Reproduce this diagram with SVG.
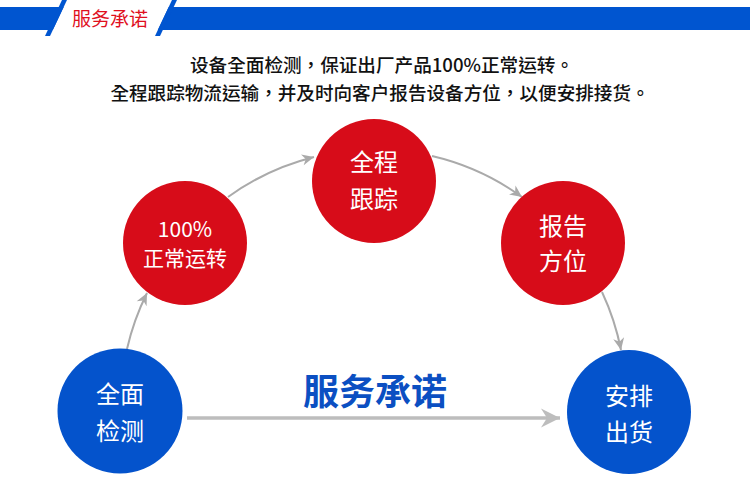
<svg xmlns="http://www.w3.org/2000/svg" width="750" height="490" viewBox="0 0 750 490">
<defs>
<style>
.hdr{fill:#0055d0}
.red{fill:#d70c19}
.blue{fill:#0453cc}
.ct{font-family:"Noto Sans CJK SC","Noto Sans",sans-serif;fill:#fff;text-anchor:middle}
.sub{font-family:"Noto Sans CJK TC",sans-serif;font-size:18.6px;font-weight:500;fill:#111;text-anchor:middle}
.arc{fill:none;stroke:#aaaaaa;stroke-width:2}
</style>
<marker id="ah" markerUnits="userSpaceOnUse" viewBox="-13 -6 14 12" markerWidth="14" markerHeight="12" refX="0" refY="0" orient="auto">
<path d="M0,0 L-12,-5.5 L-8.5,0 L-12,5.5 Z" fill="#aaaaaa"/>
</marker>
<marker id="ahb" markerUnits="userSpaceOnUse" viewBox="-19 -10 20 20" markerWidth="20" markerHeight="20" refX="0" refY="0" orient="auto">
<path d="M0,0 L-19,-9.5 L-13,0 L-19,9.5 Z" fill="#bdbdbd"/>
</marker>
</defs>
<rect width="750" height="490" fill="#fff"/>
<g id="header">
<polygon class="hdr" points="0,7 63.7,7 52.8,30 0,30"/>
<polygon class="hdr" points="62,0 67,0 50,36 45,36"/>
<polygon class="hdr" points="168.7,7 750,7 750,30 157.8,30"/>
<polygon class="hdr" points="172,0 177,0 160,36 155,36"/>
<text x="110" y="26" font-family="Noto Sans CJK SC,sans-serif" font-size="19" fill="#e0101e" text-anchor="middle">服务承诺</text>
</g>
<g id="subtitle">
<text class="sub" x="382" y="72">设备全面检测，保证出厂产品100%正常运转。</text>
<text class="sub" x="380" y="100">全程跟踪物流运输，并及时向客户报告设备方位，以便安排接货。</text>
</g>
<g id="connectors">
<path class="arc" d="M127,349 A251,251 0 0 1 147,293" marker-end="url(#ah)"/>
<path class="arc" d="M228,197 A251,251 0 0 1 314,157" marker-end="url(#ah)"/>
<path class="arc" d="M432,156 A251,251 0 0 1 522,197" marker-end="url(#ah)"/>
<path class="arc" d="M602,292 A251,251 0 0 1 621,350" marker-end="url(#ah)"/>
<line x1="187" y1="418" x2="560" y2="418" stroke="#bdbdbd" stroke-width="3.5" marker-end="url(#ahb)"/>
</g>
<g id="title">
<text x="375" y="405" font-family="Noto Sans CJK SC,sans-serif" font-size="36" font-weight="bold" fill="#0b4fc2" text-anchor="middle">服务承诺</text>
</g>
<g id="node-check">
<circle class="blue" cx="120" cy="411" r="62.5"/>
<text class="ct" x="120" y="403" font-size="24">全面</text>
<text class="ct" x="120" y="440" font-size="24">检测</text>
</g>
<g id="node-run">
<circle class="red" cx="185" cy="243" r="62"/>
<text class="ct" x="185" y="237" font-size="21">100%</text>
<text class="ct" x="185" y="266" font-size="21">正常运转</text>
</g>
<g id="node-track">
<circle class="red" cx="374" cy="181" r="62"/>
<text class="ct" x="374" y="171" font-size="24">全程</text>
<text class="ct" x="374" y="208" font-size="24">跟踪</text>
</g>
<g id="node-report">
<circle class="red" cx="563" cy="243" r="62"/>
<text class="ct" x="563" y="235" font-size="24">报告</text>
<text class="ct" x="563" y="270" font-size="24">方位</text>
</g>
<g id="node-ship">
<circle class="blue" cx="629" cy="412" r="62"/>
<text class="ct" x="629" y="405" font-size="24">安排</text>
<text class="ct" x="629" y="441" font-size="24">出货</text>
</g>
</svg>
